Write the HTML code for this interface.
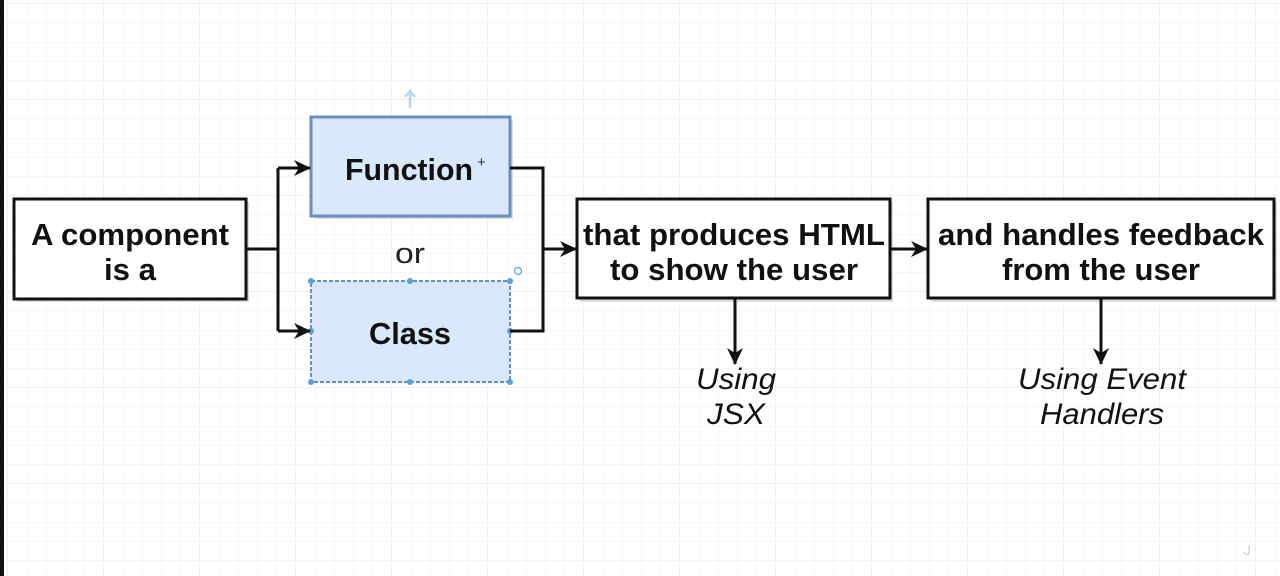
<!DOCTYPE html>
<html><head><style>
html,body{margin:0;padding:0;background:#fff;}
svg{display:block;}
text{font-family:"Liberation Sans",Arial,sans-serif;}
</style></head><body>
<svg width="1280" height="576" viewBox="0 0 1280 576" xmlns="http://www.w3.org/2000/svg">
<defs>
<pattern id="minor" width="19.2" height="19.2" patternUnits="userSpaceOnUse" x="8" y="4">
<path d="M19.2 0V19.2M0 19.2H19.2" fill="none" stroke="#eeeeee" stroke-width="1"/>
</pattern>
<pattern id="major" width="96" height="96" patternUnits="userSpaceOnUse" x="8" y="4">
<path d="M96 0V96M0 96H96" fill="none" stroke="#e0e0e0" stroke-width="1"/>
</pattern>
<marker id="ah" markerWidth="18" markerHeight="18" refX="16" refY="8" orient="auto" markerUnits="userSpaceOnUse">
<path d="M0,0 L17,8 L0,16 L5,8 Z" fill="#111"/>
</marker>
</defs>
<rect width="1280" height="576" fill="#fff"/>
<rect width="1280" height="576" fill="url(#minor)"/>
<rect width="1280" height="576" fill="url(#major)"/>
<rect x="0" y="0" width="4" height="576" fill="#111"/>

<g fill="#ddd">
<rect x="17" y="202" width="232" height="100"/>
<rect x="580" y="202" width="313" height="100"/>
<rect x="931" y="202" width="346" height="100"/>
<rect x="314" y="120" width="199" height="99"/>
</g>

<rect x="14" y="199" width="232" height="100" fill="#fff" stroke="#111" stroke-width="3"/>
<rect x="311" y="117" width="199" height="99" fill="#dae8fc" stroke="#6c8ebf" stroke-width="3"/>
<rect x="311" y="281" width="199" height="101" fill="#dae8fc" stroke="#6c8ebf" stroke-width="2" stroke-dasharray="4,2"/>
<rect x="577" y="199" width="313" height="99" fill="#fff" stroke="#111" stroke-width="3"/>
<rect x="928" y="199" width="346" height="99" fill="#fff" stroke="#111" stroke-width="3"/>

<g fill="#5aa0d8">
<circle cx="311" cy="281" r="3"/><circle cx="410" cy="281" r="3"/><circle cx="510" cy="281" r="3"/>
<circle cx="311" cy="331" r="3"/><circle cx="510" cy="331" r="3"/>
<circle cx="311" cy="382" r="3"/><circle cx="410" cy="382" r="3"/><circle cx="510" cy="382" r="3"/>
</g>
<circle cx="518" cy="271" r="3.5" fill="none" stroke="#5aa0d8" stroke-width="1.2"/>
<path d="M410 108V92M405 97L410 91L415 97" stroke="#b9d6ef" stroke-width="2.5" fill="none"/>

<g fill="none" stroke="#111" stroke-width="3">
<path d="M246 249H278M278 168V331"/>
<path d="M278 168H310" marker-end="url(#ah)"/>
<path d="M278 331H310" marker-end="url(#ah)"/>
<path d="M510 168H543V331H510"/>
<path d="M543 249H576" marker-end="url(#ah)"/>
<path d="M890 249H927" marker-end="url(#ah)"/>
<path d="M735 299V364" marker-end="url(#ah)"/>
<path d="M1101 299V364" marker-end="url(#ah)"/>
</g>

<g font-weight="bold" font-size="31" fill="#111" text-anchor="middle">
<text x="130" y="245" textLength="198" lengthAdjust="spacingAndGlyphs">A component</text>
<text x="130" y="280" textLength="52" lengthAdjust="spacingAndGlyphs">is a</text>
<text x="409" y="180" textLength="128" lengthAdjust="spacingAndGlyphs">Function</text>
<text x="410" y="344" textLength="82" lengthAdjust="spacingAndGlyphs">Class</text>
<text x="734" y="245" textLength="302" lengthAdjust="spacingAndGlyphs">that produces HTML</text>
<text x="734" y="280" textLength="248" lengthAdjust="spacingAndGlyphs">to show the user</text>
<text x="1101" y="245" textLength="326" lengthAdjust="spacingAndGlyphs">and handles feedback</text>
<text x="1101" y="280" textLength="198" lengthAdjust="spacingAndGlyphs">from the user</text>
</g>
<text x="477" y="167" font-size="15" fill="#333">+</text>
<text x="410" y="263" font-size="29" fill="#222" text-anchor="middle" textLength="30" lengthAdjust="spacingAndGlyphs">or</text>
<g font-style="italic" font-size="30" fill="#111" text-anchor="middle">
<text x="736" y="389" textLength="80" lengthAdjust="spacingAndGlyphs">Using</text>
<text x="736" y="424" textLength="58" lengthAdjust="spacingAndGlyphs">JSX</text>
<text x="1102" y="389" textLength="168" lengthAdjust="spacingAndGlyphs">Using Event</text>
<text x="1102" y="424" textLength="124" lengthAdjust="spacingAndGlyphs">Handlers</text>
</g>
<text x="1243" y="555" font-size="13" fill="#ccc">ᒍ</text>
</svg>
</body></html>
